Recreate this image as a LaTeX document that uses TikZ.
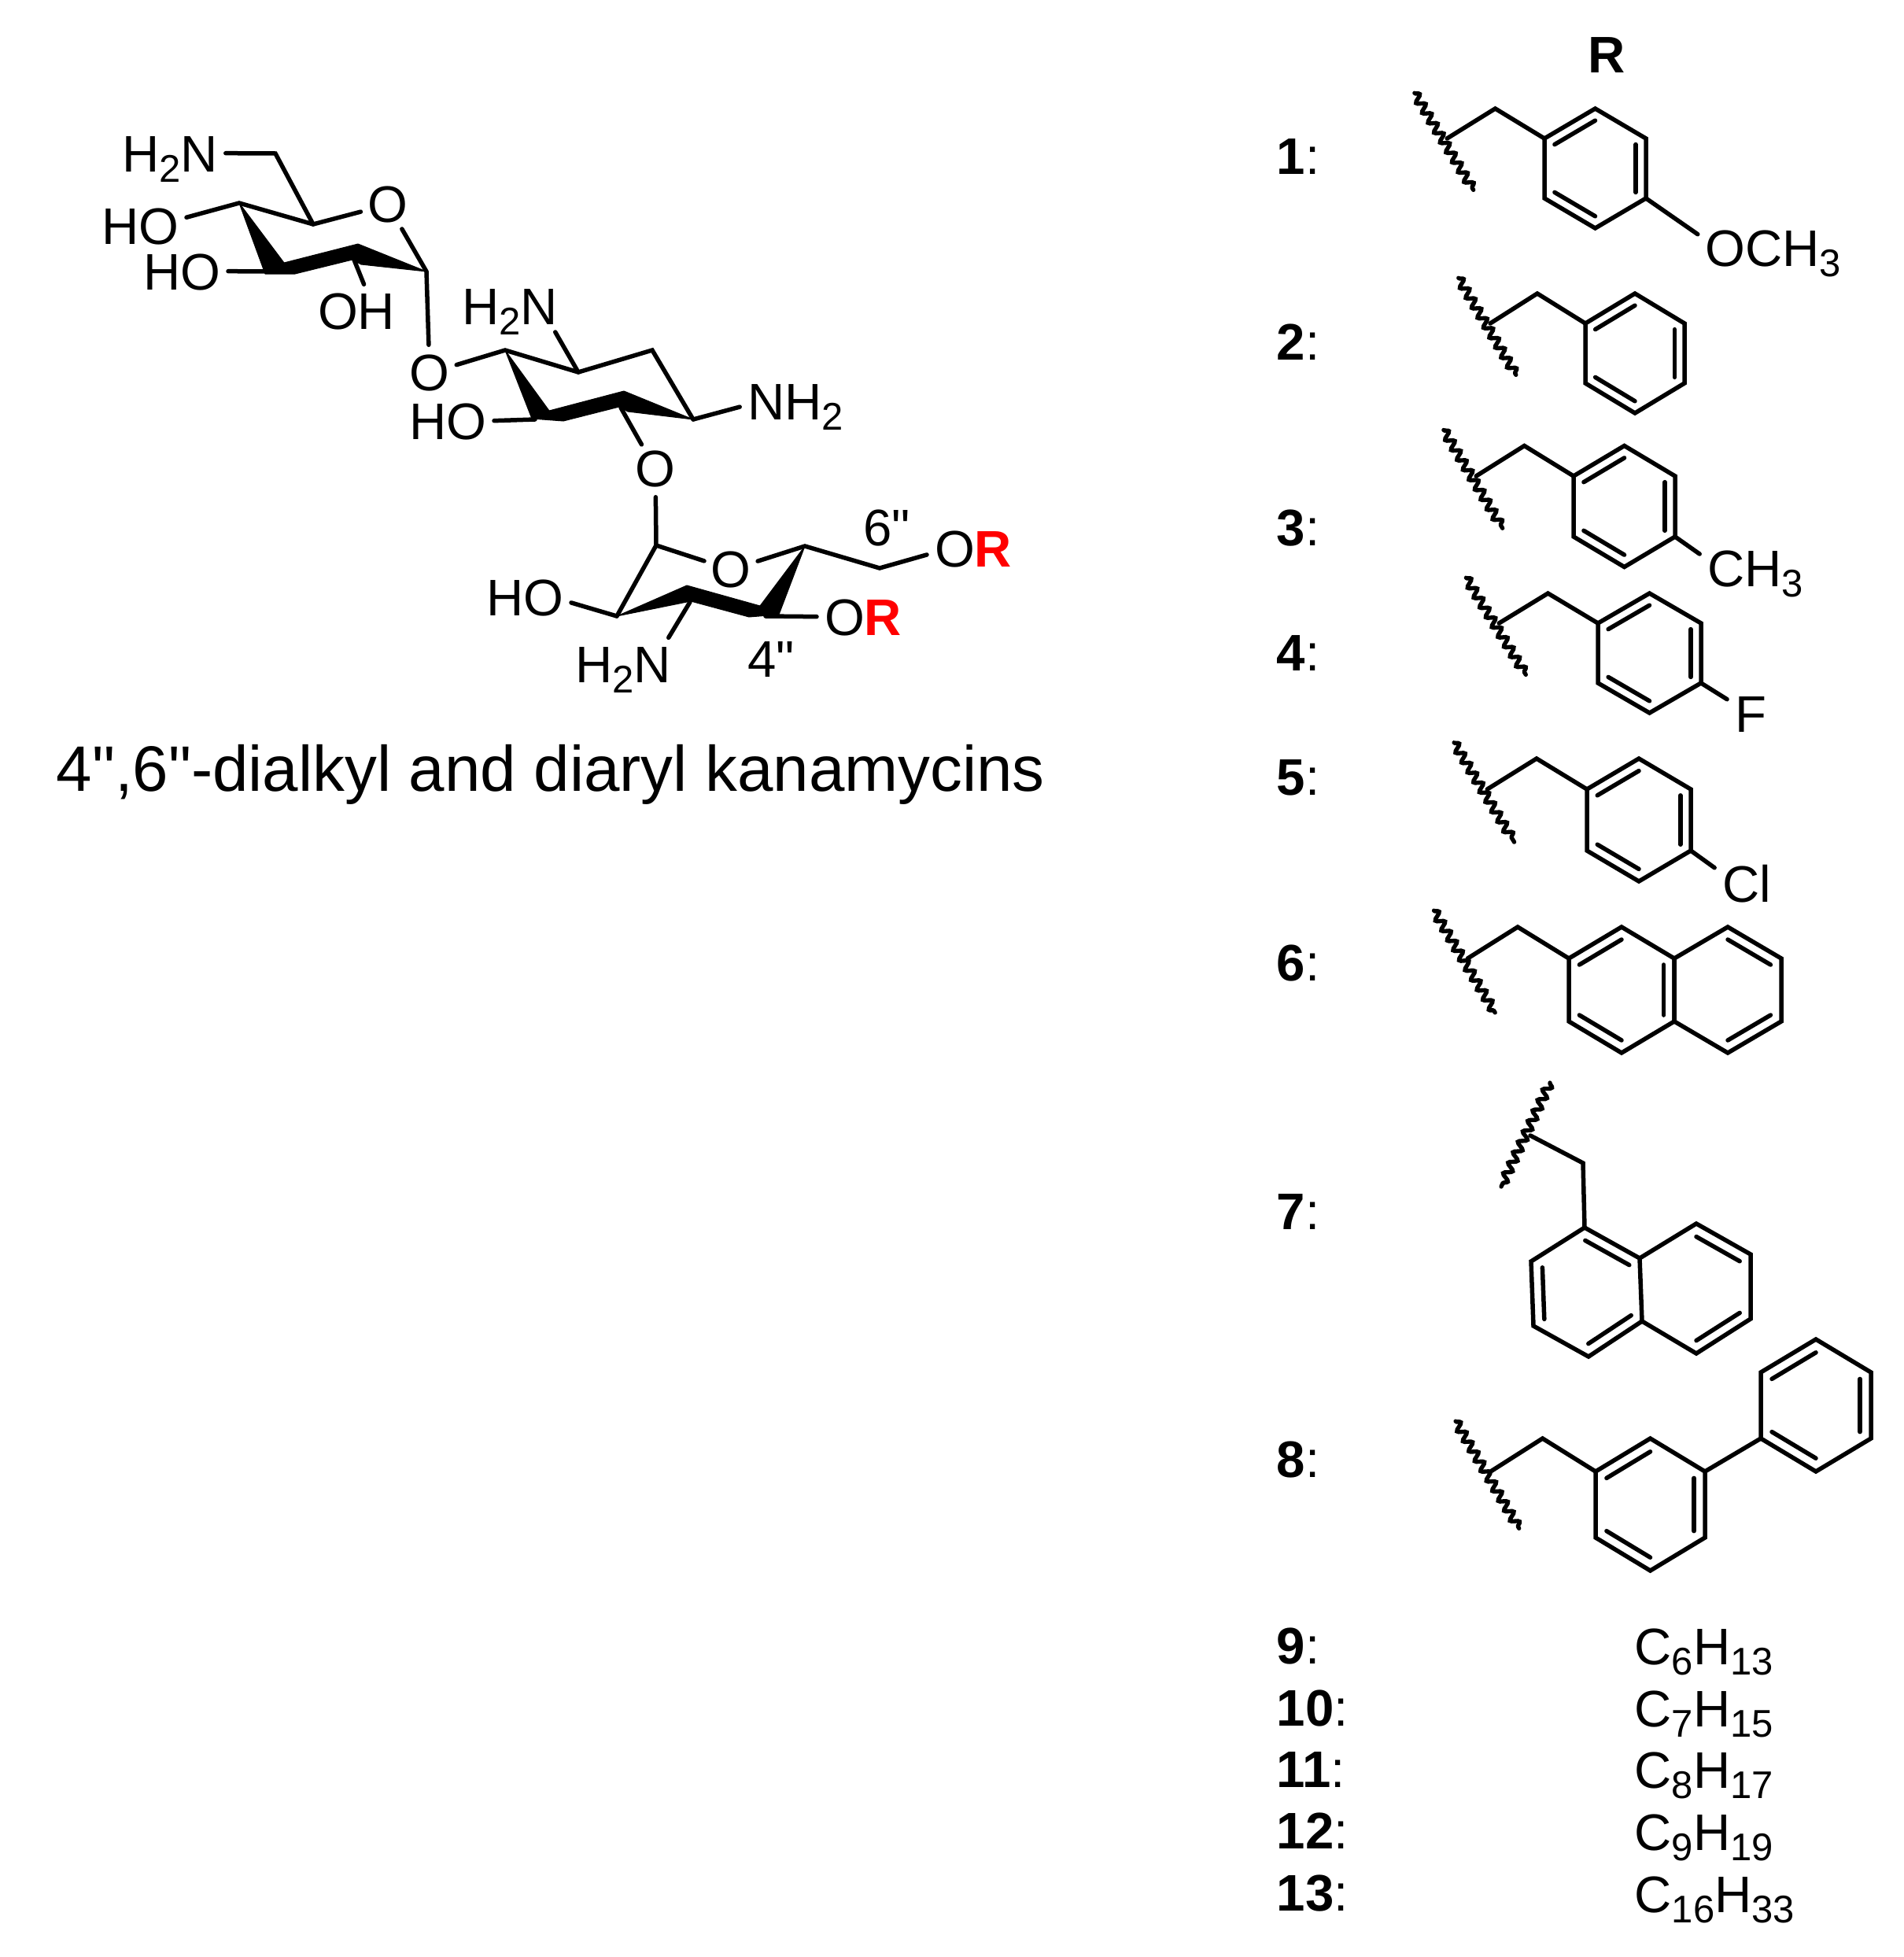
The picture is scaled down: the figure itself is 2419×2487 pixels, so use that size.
\documentclass[tikz,border=0pt]{standalone}
\usepackage{fontspec}
\setmainfont{Liberation Sans}
\newfontface\plainq{Liberation Sans}
\usepackage{xcolor}
\usetikzlibrary{calc,decorations.pathmorphing}

\newcommand{\chemsub}[1]{\raisebox{-3.9pt}{\fontsize{14.7}{15}\selectfont #1}}
\newcommand{\dblq}{{\plainq\symbol{34}}}
\newcommand{\dblbond}[3]{\draw[bond] ($(#1)!.8!(#2)$) -- ($(#1)!.8!(#3)$);}
\newcommand{\hexring}[5]{
\coordinate (#1a) at (#2,#3);
\coordinate (#1b) at (#2+#4,#3-#5/2);
\coordinate (#1c) at (#2+2*#4,#3);
\coordinate (#1d) at (#2+2*#4,#3+#5);
\coordinate (#1e) at (#2+#4,#3+1.5*#5);
\coordinate (#1f) at (#2,#3+#5);
\coordinate (#1o) at (#2+#4,#3+#5/2);
\draw[bond] (#1a) -- (#1b) -- (#1c) -- (#1d) -- (#1e) -- (#1f) -- cycle;
}
\newcommand{\benzyl}[5]{
\hexring{#1}{#2}{#3}{#4}{#5}
\dblbond{#1o}{#1a}{#1b}
\dblbond{#1o}{#1c}{#1d}
\dblbond{#1o}{#1e}{#1f}
\coordinate (#1j) at (#2-1.92*#4,#3);
\coordinate (#1k) at (#2-.97*#4,#3-#5/2);
\coordinate (#1u) at (#2-2.56*#4,#3-.76*#5);
\coordinate (#1v) at (#2-1.4*#4,#3+.86*#5);
\draw[bond] (#1j) -- (#1k) -- (#1a);
\draw[wavy] (#1u) -- (#1v);
}

\tikzset{
  bond/.style={line width=1.65pt,line cap=round,line join=miter},
  wedgebond/.style={fill=black,draw=black,line width=.3pt,line join=round},
  wavy/.style={line width=1.6pt,line cap=round,decorate,decoration={snake,segment length=4.4pt,amplitude=1.5pt}},
  lbl/.style={anchor=base,inner sep=3pt,outer sep=0pt,text height=14pt,text depth=0pt,font=\fontsize{19.6}{20}\selectfont},
  oxy/.style={shape=circle,inner sep=.3pt,outer sep=0pt,font=\fontsize{19.6}{20}\selectfont},
  rowlbl/.style={anchor=base west,inner sep=0pt,font=\fontsize{19.6}{20}\selectfont}
}

\begin{document}
\begin{tikzpicture}[x=0.3pt,y=-0.3pt]
\useasboundingbox (0,0) rectangle (2419,2487);

\coordinate (c6a) at (350,195);
\coordinate (c5a) at (398,285);
\coordinate (c4a) at (304,258);
\coordinate (c3a) at (340,345);
\coordinate (c2a) at (450,330);
\coordinate (c1a) at (542,345);

\node[lbl] (nh1) at (216,218) {H\chemsub{2}N};
\node[lbl] (ho1) at (178,310) {HO};
\node[lbl] (ho2) at (231,368) {HO};
\node[lbl] (oh1) at (453,418) {OH};
\node[oxy] (o1) at (493,260) {O};
\node[oxy] (o2) at (546,474) {O};

\fill[wedgebond] (c4a) -- (361,334) -- (455,310) -- (c1a) -- (459,336) -- (448,330) -- (375,348) -- (337,348) -- cycle;
\draw[bond] (nh1.east) -- (c6a) -- (c5a);
\draw[bond] (ho1.10) -- (c4a) -- (c5a) -- (o1);
\draw[bond] (ho2.east) -- (c3a);
\draw[bond] (c2a) -- (oh1.74);
\draw[bond] (o1) -- (c1a) -- (o2);

\coordinate (c1b) at (642,445);
\coordinate (c2b) at (735,473);
\coordinate (c3b) at (829,445);
\coordinate (c4b) at (881,533);
\coordinate (c5b) at (789,518);
\coordinate (c6b) at (680,533);

\node[lbl] (nh2) at (648,412) {H\chemsub{2}N};
\node[lbl] (nh3) at (1011,533) {NH\chemsub{2}};
\node[lbl] (ho3) at (569,558) {HO};
\node[oxy] (o3) at (833,596) {O};

\fill[wedgebond] (c1b) -- (698,522) -- (793,497) -- (c4b) -- (798,523) -- (787,517) -- (716,535) -- (676,532) -- cycle;
\draw[bond] (o2) -- (c1b) -- (c2b) -- (c3b) -- (c4b);
\draw[bond] (nh2.-30) -- (c2b);
\draw[bond] (nh3.186) -- (c4b);
\draw[bond] (ho3.east) -- (c6b);
\draw[bond] (c5b) -- (o3);

\coordinate (c1c) at (834,693);
\coordinate (c2c) at (784,783);
\coordinate (c3c) at (877,765);
\coordinate (c4c) at (973,783);
\coordinate (c5c) at (1023,694);
\coordinate (c6c) at (1118,722);

\node[oxy] (o4) at (929,724) {O};
\node[lbl] (ho4) at (667,782) {HO};
\node[lbl] (nh4) at (792,867) {H\chemsub{2}N};
\node[lbl] (orA) at (1237,720) {O{\color{red}\bfseries R}};
\node[lbl] (orB) at (1097,807) {O{\color{red}\bfseries R}};
\node[lbl] (pos6) at (1127,693) {6\dblq};
\node[lbl] (pos4) at (980,860) {4\dblq};

\fill[wedgebond] (c2c) -- (873,744) -- (966,770) -- (c5c) -- (990,781) -- (952,784) -- (878,764) -- cycle;
\draw[bond] (o3) -- (c1c) -- (o4) -- (c5c) -- (c6c) -- (orA.188);
\draw[bond] (c1c) -- (c2c);
\draw[bond] (ho4.-7) -- (c2c);
\draw[bond] (c3c) -- (nh4.30);
\draw[bond] (c4c) -- (orB.west);

\node[anchor=base west,inner sep=0pt,font=\fontsize{24.5}{26}\selectfont] (title) at (71,1005) {4\dblq,6\dblq-dialkyl and diaryl kanamycins};

\node[lbl,font=\fontsize{19.6}{20}\selectfont\bfseries] (rhead) at (2042,93) {R};
\foreach \n/\y in {1/221,2/457,3/693,4/852,5/1010,6/1246,7/1562,8/1877,9/2114,10/2193,11/2271,12/2349,13/2428}
  \node[rowlbl] (n\n) at (1622,\y) {\textbf{\n}:};
\node[rowlbl] (alk9) at (2077,2115) {C\chemsub{6}H\chemsub{13}};
\node[rowlbl] (alk10) at (2077,2194) {C\chemsub{7}H\chemsub{15}};
\node[rowlbl] (alk11) at (2077,2272) {C\chemsub{8}H\chemsub{17}};
\node[rowlbl] (alk12) at (2077,2351) {C\chemsub{9}H\chemsub{19}};
\node[rowlbl] (alk13) at (2077,2430) {C\chemsub{16}H\chemsub{33}};

\benzyl{ra}{1963}{176}{64.5}{76}
\node[lbl] (och) at (2254,338) {OCH\chemsub{3}};
\draw[bond] (rad) -- (och.170);

\benzyl{rb}{2015}{411}{63}{76}

\benzyl{rc}{2000}{605}{64.5}{77}
\node[lbl] (chm) at (2231,745) {CH\chemsub{3}};
\draw[bond] (rcd) -- (chm.166);

\benzyl{rd}{2031}{792}{65.5}{76}
\node[lbl] (fl) at (2225,930) {F};
\draw[bond] (rdd) -- (fl.149);

\benzyl{re}{2017}{1003}{66}{78}
\node[lbl] (cl) at (2220,1146) {Cl};
\draw[bond] (red) -- (cl.154);

\benzyl{rf}{1994}{1218}{67}{80}
\hexring{rg}{2128}{1218}{68}{80}
\dblbond{rgo}{rgb}{rgc}
\dblbond{rgo}{rgd}{rge}

\coordinate (sa) at (2014,1560);
\coordinate (sb) at (2084,1599);
\coordinate (sc) at (2087,1679);
\coordinate (sd) at (2019,1724);
\coordinate (se) at (1949,1685);
\coordinate (sf) at (1946,1603);
\coordinate (so) at (2018,1642);
\coordinate (ta) at (2156,1555);
\coordinate (tb) at (2225,1594);
\coordinate (tc) at (2225,1676);
\coordinate (td) at (2156,1720);
\coordinate (to) at (2156,1638);
\coordinate (sj) at (1945,1443);
\coordinate (sk) at (2012,1478);
\coordinate (su) at (1970,1376);
\coordinate (sv) at (1908,1508);
\draw[bond] (sa) -- (sb) -- (sc) -- (sd) -- (se) -- (sf) -- cycle;
\draw[bond] (sb) -- (ta) -- (tb) -- (tc) -- (td) -- (sc);
\draw[bond] (sj) -- (sk) -- (sa);
\draw[wavy] (su) -- (sv);
\dblbond{so}{sa}{sb}
\dblbond{so}{sf}{se}
\dblbond{so}{sd}{sc}
\dblbond{to}{ta}{tb}
\dblbond{to}{tc}{td}

\benzyl{rh}{2028}{1870}{69.5}{84}
\hexring{ri}{2238}{1744}{70}{84}
\dblbond{rio}{ria}{rib}
\dblbond{rio}{ric}{rid}
\dblbond{rio}{rie}{rif}
\draw[bond] (rhc) -- (rif);
\end{tikzpicture}
\end{document}
